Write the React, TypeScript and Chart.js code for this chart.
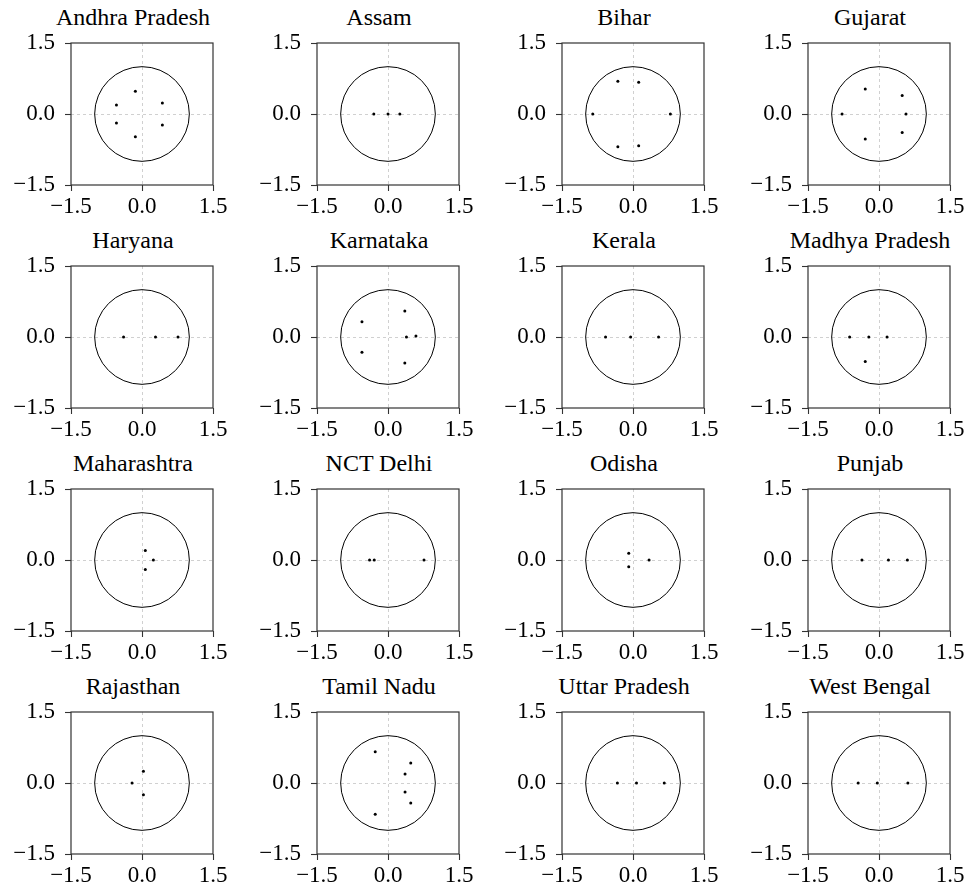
import React, { useEffect, useRef } from "react";
import { Chart, registerables } from "chart.js";

Chart.register(...registerables);

// ---------- data ----------
const STATE_NAMES = [
  "Andhra Pradesh", "Assam", "Bihar", "Gujarat",
  "Haryana", "Karnataka", "Kerala", "Madhya Pradesh",
  "Maharashtra", "NCT Delhi", "Odisha", "Punjab",
  "Rajasthan", "Tamil Nadu", "Uttar Pradesh", "West Bengal",
];

// real parts (x) and imaginary parts (y) of the roots of each state
const ANDHRA_PRADESH_RE = [-0.14, -0.14, 0.43, 0.43, -0.54, -0.54];
const ANDHRA_PRADESH_IM = [0.48, -0.48, 0.23, -0.23, 0.19, -0.19];

const ASSAM_RE = [-0.30, 0.0, 0.25];
const ASSAM_IM = [0, 0, 0];

const BIHAR_RE = [-0.32, -0.32, 0.12, 0.12, -0.85, 0.79];
const BIHAR_IM = [0.69, -0.69, 0.67, -0.67, 0, 0];

const GUJARAT_RE = [-0.29, -0.29, 0.49, 0.49, -0.78, 0.57];
const GUJARAT_IM = [0.53, -0.53, 0.39, -0.39, 0, 0];

const HARYANA_RE = [-0.39, 0.285, 0.76];
const HARYANA_IM = [0, 0, 0];

const KARNATAKA_RE = [0.355, 0.355, -0.55, -0.55, 0.39, 0.59];
const KARNATAKA_IM = [0.55, -0.55, 0.32, -0.32, 0, 0.02];

const KERALA_RE = [-0.58, -0.05, 0.54];
const KERALA_IM = [0, 0, 0];

const MADHYA_PRADESH_RE = [-0.62, -0.215, 0.17, -0.29];
const MADHYA_PRADESH_IM = [0, 0, 0, -0.52];

const MAHARASHTRA_RE = [0.07, 0.07, 0.24];
const MAHARASHTRA_IM = [0.2, -0.2, 0];

const NCT_DELHI_RE = [-0.39, -0.29, 0.76];
const NCT_DELHI_IM = [0, 0, 0];

const ODISHA_RE = [-0.09, -0.09, 0.34];
const ODISHA_IM = [0.14, -0.14, 0];

const PUNJAB_RE = [-0.36, 0.2, 0.6];
const PUNJAB_IM = [0, 0, 0];

const RAJASTHAN_RE = [0.03, 0.03, -0.21];
const RAJASTHAN_IM = [0.25, -0.25, 0];

const TAMIL_NADU_RE = [-0.27, -0.27, 0.48, 0.48, 0.36, 0.36];
const TAMIL_NADU_IM = [0.66, -0.66, 0.42, -0.42, 0.19, -0.19];

const UTTAR_PRADESH_RE = [-0.33, 0.074, 0.66];
const UTTAR_PRADESH_IM = [0, 0, 0];

const WEST_BENGAL_RE = [-0.44, -0.035, 0.61];
const WEST_BENGAL_IM = [0, 0, 0];

const AXIS_TICKS = [-1.5, 0, 1.5];
const AXIS_MIN = -1.5;
const AXIS_MAX = 1.5;
const UNIT_RADIUS = 1;

const PANELS_RE = [
  ANDHRA_PRADESH_RE, ASSAM_RE, BIHAR_RE, GUJARAT_RE,
  HARYANA_RE, KARNATAKA_RE, KERALA_RE, MADHYA_PRADESH_RE,
  MAHARASHTRA_RE, NCT_DELHI_RE, ODISHA_RE, PUNJAB_RE,
  RAJASTHAN_RE, TAMIL_NADU_RE, UTTAR_PRADESH_RE, WEST_BENGAL_RE,
];
const PANELS_IM = [
  ANDHRA_PRADESH_IM, ASSAM_IM, BIHAR_IM, GUJARAT_IM,
  HARYANA_IM, KARNATAKA_IM, KERALA_IM, MADHYA_PRADESH_IM,
  MAHARASHTRA_IM, NCT_DELHI_IM, ODISHA_IM, PUNJAB_IM,
  RAJASTHAN_IM, TAMIL_NADU_IM, UTTAR_PRADESH_IM, WEST_BENGAL_IM,
];

// ---------- layout ----------
const COL_LEFTS = [71, 317, 562, 808];
const ROW_TOPS = [43, 266, 489, 712];
const PLOT = 142;
const Y_AXIS_W = 70;
const X_AXIS_H = 38;
const TITLE_H = 43;
const RIGHT_PAD = 22;
const CANVAS_W = Y_AXIS_W + PLOT + RIGHT_PAD;
const CANVAS_H = TITLE_H + PLOT + X_AXIS_H;
const TITLE_BOX_W = 240;
const TITLE_SHIFT = -9;

const FONT_FAMILY = "'Liberation Serif', 'Times New Roman', serif";
const FONT_SIZE = 23;
const TITLE_SIZE = 24;

const fmt = (v: number) => {
  const s = Math.abs(v).toFixed(1);
  return v < 0 ? "\u2212" + s : s;
};

const unitCirclePlugin = {
  id: "unitCircle",
  beforeDatasetsDraw(chart: any) {
    const { ctx, scales } = chart;
    const x = scales.x, y = scales.y;
    const cx = x.getPixelForValue(0);
    const cy = y.getPixelForValue(0);
    const rx = x.getPixelForValue(UNIT_RADIUS) - cx;
    const ry = cy - y.getPixelForValue(UNIT_RADIUS);
    ctx.save();
    ctx.beginPath();
    ctx.ellipse(cx, cy, rx, ry, 0, 0, Math.PI * 2);
    ctx.strokeStyle = "#000";
    ctx.lineWidth = 1;
    ctx.stroke();
    ctx.restore();
  },
};

const framePlugin = {
  id: "frame",
  afterDraw(chart: any) {
    const { ctx, chartArea } = chart;
    ctx.save();
    ctx.strokeStyle = "#333";
    ctx.lineWidth = 1.2;
    ctx.strokeRect(chartArea.left, chartArea.top, chartArea.right - chartArea.left, chartArea.bottom - chartArea.top);
    ctx.restore();
  },
};

function axisOptions(isX: boolean) {
  return {
    type: "linear",
    min: AXIS_MIN,
    max: AXIS_MAX,
    afterBuildTicks: (s: any) => {
      s.ticks = AXIS_TICKS.map((v) => ({ value: v }));
    },
    afterFit: (s: any) => {
      if (isX) s.height = X_AXIS_H;
      else s.width = Y_AXIS_W;
    },
    ticks: {
      callback: (v: any) => fmt(Number(v)),
      font: { family: FONT_FAMILY, size: FONT_SIZE },
      color: "#000",
      padding: isX ? 2 : 10,
      maxRotation: 0,
      minRotation: 0,
      autoSkip: false,
    },
    grid: {
      color: (c: any) => (c.tick && c.tick.value === 0 ? "#c4c4c4" : "rgba(0,0,0,0)"),
      lineWidth: 0.8,
      tickColor: "#333",
      tickLength: 6,
      tickWidth: 1.1,
      drawTicks: true,
    },
    border: { display: false, dash: [3, 3] },
  };
}

function Panel({ idx }: { idx: number }) {
  const ref = useRef<HTMLCanvasElement>(null);
  const r = Math.floor(idx / 4);
  const c = idx % 4;
  useEffect(() => {
    const re = PANELS_RE[idx];
    const im = PANELS_IM[idx];
    const chart = new Chart(ref.current as HTMLCanvasElement, {
      type: "scatter",
      data: {
        datasets: [
          {
            data: re.map((x, i) => ({ x, y: im[i] })),
            backgroundColor: "#000",
            borderColor: "#000",
            borderWidth: 0,
            pointRadius: 1.5,
          },
        ],
      },
      options: {
        animation: false,
        responsive: false,
        maintainAspectRatio: false,
        events: [],
        layout: { padding: { top: TITLE_H, left: 0, right: RIGHT_PAD, bottom: 0 } },
        scales: {
          x: axisOptions(true) as any,
          y: axisOptions(false) as any,
        },
        plugins: {
          legend: { display: false },
          tooltip: { enabled: false },
          title: { display: false },
        },
      } as any,
      plugins: [unitCirclePlugin, framePlugin],
    });
    return () => chart.destroy();
  }, [idx]);
  const plotCenter = COL_LEFTS[c] + PLOT / 2 + TITLE_SHIFT;
  return (
    <>
      <div
        style={{
          position: "absolute",
          left: plotCenter - TITLE_BOX_W / 2,
          top: ROW_TOPS[r] - TITLE_H + 3,
          width: TITLE_BOX_W,
          height: 28,
          lineHeight: "28px",
          textAlign: "center",
          whiteSpace: "nowrap",
          fontFamily: FONT_FAMILY,
          fontSize: TITLE_SIZE,
          color: "#000",
        }}
      >
        {STATE_NAMES[idx]}
      </div>
      <canvas
        ref={ref}
        width={CANVAS_W}
        height={CANVAS_H}
        style={{
          position: "absolute",
          left: COL_LEFTS[c] - Y_AXIS_W,
          top: ROW_TOPS[r] - TITLE_H,
          width: CANVAS_W,
          height: CANVAS_H,
        }}
      />
    </>
  );
}

export default function App() {
  return (
    <div
      style={{
        position: "absolute",
        left: 0,
        top: 0,
        width: 973,
        height: 892,
        overflow: "hidden",
        background: "#fff",
      }}
    >
      {STATE_NAMES.map((_, i) => (
        <Panel key={i} idx={i} />
      ))}
    </div>
  );
}
